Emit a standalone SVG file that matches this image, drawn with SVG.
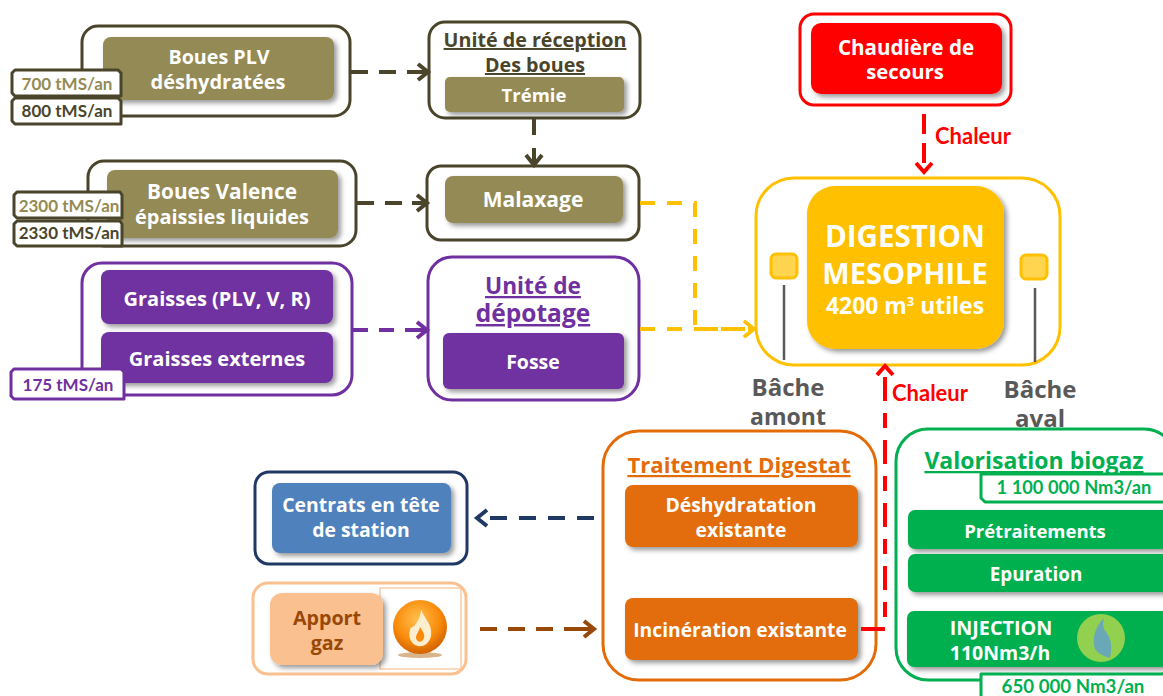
<svg xmlns="http://www.w3.org/2000/svg" width="1163" height="696" viewBox="0 0 1163 696">
<style>
text{font-family:"Open Sans","Liberation Sans",sans-serif;font-weight:700;text-anchor:middle}
.w{fill:#fff;font-size:19.5px}
.o{fill:#fff;stroke-width:3}
.i{filter:url(#sh)}
.tag{fill:#fff;stroke-width:3;stroke-linejoin:round}
.t{font-family:"Lato","Liberation Sans",sans-serif;font-size:17px}
.c{fill:none;stroke-width:4}
.khaki{fill:#948a54}.dk{stroke:#4a452a}
</style>
<defs>
<filter id="sh" x="-10%" y="-10%" width="125%" height="130%"><feDropShadow dx="3" dy="3" stdDeviation="2.5" flood-color="#000" flood-opacity=".4"/></filter>
<radialGradient id="fl" cx=".45" cy=".35" r=".7"><stop offset="0" stop-color="#ffc04d"/><stop offset=".6" stop-color="#f98a0a"/><stop offset="1" stop-color="#c85a00"/></radialGradient>
<marker id="adk" markerUnits="userSpaceOnUse" markerWidth="22" markerHeight="22" refX="18" refY="11" orient="auto"><path d="M8 3 L18 11 L8 19 M3 11H16" fill="none" stroke="#4a452a" stroke-width="4"/></marker>
<marker id="apu" markerUnits="userSpaceOnUse" markerWidth="22" markerHeight="22" refX="18" refY="11" orient="auto"><path d="M8 3 L18 11 L8 19 M3 11H16" fill="none" stroke="#7030a0" stroke-width="4"/></marker>
<marker id="aye" markerUnits="userSpaceOnUse" markerWidth="22" markerHeight="22" refX="18" refY="11" orient="auto"><path d="M8 3 L18 11 L8 19" fill="none" stroke="#ffc000" stroke-width="3.5"/></marker>
<marker id="are" markerUnits="userSpaceOnUse" markerWidth="22" markerHeight="22" refX="18" refY="11" orient="auto"><path d="M9 3 L18 11 L9 19" fill="none" stroke="#ff0000" stroke-width="4"/></marker>
<marker id="abl" markerUnits="userSpaceOnUse" markerWidth="22" markerHeight="22" refX="18" refY="11" orient="auto"><path d="M8 3 L18 11 L8 19" fill="none" stroke="#1f3864" stroke-width="4"/></marker>
<marker id="abr" markerUnits="userSpaceOnUse" markerWidth="22" markerHeight="22" refX="18" refY="11" orient="auto"><path d="M8 3 L18 11 L8 19 M3 11H16" fill="none" stroke="#984807" stroke-width="4"/></marker>
</defs>
<rect width="1163" height="696" fill="#fff"/>

<g id="boues-plv">
<rect class="o dk" x="82" y="26" width="268" height="90" rx="16"/>
<rect class="i khaki" x="103" y="37" width="231" height="63" rx="8"/>
<text class="w" x="219" y="64" style="font-size:19.7px">Boues PLV</text><text class="w" x="218" y="89" style="font-size:20px">déshydratées</text>
<path class="tag dk" d="M15 70H118L121 73V96H15L12 93V73Z"/>
<path class="tag dk" d="M15 98H118L121 101V124H15L12 121V101Z"/>
<text class="t" x="67" y="90" fill="#948a54">700 tMS/an</text><text class="t" x="67" y="117" fill="#4a452a">800 tMS/an</text>
</g>

<g id="boues-valence">
<rect class="o dk" x="88" y="161" width="268" height="85" rx="16"/>
<rect class="i khaki" x="107" y="170" width="231" height="68" rx="8"/>
<text class="w" x="222" y="199" style="font-size:20.8px">Boues Valence</text><text class="w" x="222" y="224" style="font-size:20px">épaissies liquides</text>
<path class="tag dk" d="M17 192H120L122 195V218H17L14 215V195Z"/>
<path class="tag dk" d="M17 221H120L122 224V246H17L14 243V224Z"/>
<text class="t" x="69" y="212" fill="#948a54">2300 tMS/an</text><text class="t" x="69" y="239" fill="#4a452a">2330 tMS/an</text>
</g>

<g id="graisses">
<rect class="o" stroke="#7030a0" x="82" y="263" width="270" height="132" rx="20"/>
<rect class="i" fill="#7030a0" x="101" y="270" width="232" height="54" rx="8"/>
<rect class="i" fill="#7030a0" x="101" y="332" width="232" height="51" rx="8"/>
<text class="w" x="217" y="306" style="font-size:20px">Graisses (PLV, V, R)</text><text class="w" x="217" y="366" style="font-size:20px">Graisses externes</text>
<path class="tag" stroke="#7030a0" d="M14 369H121L124 372V399H14L11 396V372Z"/>
<text class="t" x="68" y="391" fill="#7030a0">175 tMS/an</text>
</g>

<g id="reception">
<rect class="o dk" x="429" y="22" width="211" height="96" rx="16"/>
<text x="535" y="47" fill="#4a452a" font-size="19.7" text-decoration="underline">Unité de réception</text>
<text x="535" y="72" fill="#4a452a" font-size="19.7" text-decoration="underline">Des boues</text>
<rect class="i khaki" x="445" y="77" width="179" height="35" rx="5"/>
<text class="w" x="534" y="102" style="font-size:18.5px">Trémie</text>
</g>

<g id="malaxage">
<rect class="o dk" x="427" y="166" width="212" height="74" rx="14"/>
<rect class="i khaki" x="445" y="176" width="178" height="47" rx="8"/>
<text class="w" x="533" y="207" style="font-size:21px">Malaxage</text>
</g>

<g id="depotage">
<rect class="o" stroke="#7030a0" x="428" y="257" width="211" height="143" rx="24"/>
<text x="533" y="294" fill="#7030a0" font-size="22.7" text-decoration="underline">Unité de</text>
<text x="533" y="322" fill="#7030a0" font-size="24.5" text-decoration="underline">dépotage</text>
<rect class="i" fill="#7030a0" x="443" y="333" width="181" height="56" rx="6"/>
<text class="w" x="533" y="369">Fosse</text>
</g>

<g id="chaudiere">
<rect class="o" stroke="#ff0000" x="800" y="14" width="211" height="91" rx="14"/>
<rect class="i" fill="#ff0000" x="811" y="23" width="191" height="71" rx="10"/>
<text class="w" x="906" y="55" style="font-size:20.6px">Chaudière de</text><text class="w" x="905" y="79" style="font-size:20.3px">secours</text>
</g>
<text class="t" x="973" y="144" fill="#ff0000" style="font-size:22px">Chaleur</text>

<g id="digestion">
<rect class="o" stroke="#ffc000" x="756" y="178" width="304" height="187" rx="38"/>
<rect class="i" fill="#ffc000" x="807" y="186" width="197" height="163" rx="28"/>
<text x="905" y="247" fill="#fff" font-size="29.5">DIGESTION</text>
<text x="905" y="284" fill="#fff" font-size="29">MESOPHILE</text>
<text x="905" y="314" fill="#fff" font-size="22.9">4200 m<tspan font-size="13" dy="-8">3</tspan><tspan dy="8"> utiles</tspan></text>
<rect x="771" y="254" width="26" height="24" rx="5" fill="#ffd54f" stroke="#ffc000" stroke-width="3"/>
<rect x="1021" y="255" width="26" height="24" rx="5" fill="#ffd54f" stroke="#ffc000" stroke-width="3"/>
<path d="M784 285V360M1035 288V362" stroke="#595959" stroke-width="2.5" fill="none"/>
</g>
<g id="baches">
<text x="788" y="396" fill="#595959" font-size="24">Bâche</text><text x="788" y="425" fill="#595959" font-size="23">amont</text>
<text x="1040" y="398" fill="#595959" font-size="24">Bâche</text><text x="1040" y="427" fill="#595959" font-size="24">aval</text>
</g>
<text class="t" x="930" y="401" fill="#ff0000" style="font-size:22px">Chaleur</text>

<g id="digestat">
<rect class="o" stroke="#e36c09" x="603" y="431" width="273" height="249" rx="36"/>
<text x="739" y="473" fill="#e36c09" font-size="22.2" text-decoration="underline">Traitement Digestat</text>
<rect class="i" fill="#e36c09" x="625" y="485" width="233" height="62" rx="8"/>
<text class="w" x="741" y="512" style="font-size:19.4px">Déshydratation</text><text class="w" x="741" y="537" style="font-size:19.4px">existante</text>
<rect class="i" fill="#e36c09" x="625" y="598" width="233" height="62" rx="8"/>
<text class="w" x="740" y="637" style="font-size:19.3px">Incinération existante</text>
</g>

<g id="valorisation">
<rect class="o" stroke="#00b050" x="896" y="429" width="280" height="251" rx="32"/>
<text x="1034" y="469" fill="#00b050" font-size="23" text-decoration="underline">Valorisation biogaz</text>
<path class="tag" stroke="#00b050" stroke-width="2.5" d="M981 474V498L985 502H1170V474Z"/>
<text class="t" x="1074" y="494" fill="#00b050" style="font-size:18.3px">1 100 000 Nm3/an</text>
<rect class="i" fill="#00b050" x="908" y="510" width="262" height="39" rx="7"/>
<rect class="i" fill="#00b050" x="908" y="554" width="262" height="38" rx="7"/>
<rect class="i" fill="#00b050" x="907" y="611" width="262" height="56" rx="7"/>
<text class="w" x="1035" y="538" style="font-size:18.5px">Prétraitements</text><text class="w" x="1036" y="581" style="font-size:18.8px">Epuration</text>
<text class="w" x="1001" y="635" style="font-size:19.8px">INJECTION</text><text class="w" x="1000" y="660">110Nm3/h</text>
<circle cx="1101" cy="638" r="24" fill="#92d050"/>
<path d="M1104 618C1094 628 1092 640 1095 649C1098 654 1106 657 1110 658C1112 648 1112 640 1106 632C1102 627 1103 622 1104 618Z" fill="#6aa8b8"/>
<path class="tag" stroke="#00b050" stroke-width="2.5" d="M981 674V700H1170V674Z"/>
<text class="t" x="1073" y="693" fill="#00b050" style="font-size:18.7px">650 000  Nm3/an</text>
</g>

<g id="centrats">
<rect class="o" stroke="#1f3864" x="255" y="472" width="212" height="92" rx="14"/>
<rect class="i" fill="#4f81bd" x="272" y="483" width="179" height="70" rx="8"/>
<text class="w" x="361" y="512" style="font-size:19.4px">Centrats en tête</text><text class="w" x="361" y="537" style="font-size:19.4px">de station</text>
</g>

<g id="apport">
<rect class="o" stroke="#fac090" x="253" y="583" width="213" height="91" rx="15"/>
<rect x="380" y="588" width="81" height="81" fill="#fff" stroke="#fac090" stroke-width="1.2"/>
<rect class="i" fill="#fac090" x="270" y="593" width="113" height="72" rx="12"/>
<text x="327" y="625" fill="#984807" font-size="19.7">Apport</text><text x="327" y="650" fill="#984807" font-size="19.7">gaz</text>
<ellipse cx="420" cy="655" rx="22" ry="3" fill="#d9b48a"/>
<circle cx="420" cy="627" r="27" fill="url(#fl)"/>
<path d="M421 609C424 619 433 624 431 636C429 645 422 647 418 646C411 645 408 637 410 630C411 626 414 627 415 625C418 621 421 616 421 609Z" fill="#fdeecf"/>
<path d="M420 627C423 632 426 635 423 640C420 643 417 642 416 638C416 634 419 632 420 627Z" fill="#f98a0a"/>
</g>

<g id="connectors">
<path class="c dk" d="M351 72H428" stroke-dasharray="17 11" marker-end="url(#adk)"/>
<path class="c dk" d="M357 203H427" stroke-dasharray="17 11" marker-end="url(#adk)"/>
<path class="c dk" d="M534 119V165" stroke-dasharray="16 13" marker-end="url(#adk)"/>
<path class="c" stroke="#7030a0" d="M353 330H427" stroke-dasharray="15 11" marker-end="url(#apu)"/>
<path class="c" stroke="#ffc000" d="M640 203H695V329H754" stroke-dasharray="15 12" marker-end="url(#aye)"/>
<path class="c" stroke="#ffc000" d="M640 329H754" stroke-dasharray="15 12" marker-end="url(#aye)"/>
<path class="c" stroke="#ff0000" d="M924 114V172" stroke-dasharray="20 9" marker-end="url(#are)"/>
<path class="c" stroke="#ff0000" d="M861 629H885V366" stroke-dasharray="24 12 15 12" marker-end="url(#are)"/>
<path class="c" stroke="#1f3864" d="M594 518H477" stroke-dasharray="17 12" marker-end="url(#abl)"/>
<path class="c" stroke="#984807" d="M480 629H594" stroke-dasharray="17 11" marker-end="url(#abr)"/>
</g>
</svg>
